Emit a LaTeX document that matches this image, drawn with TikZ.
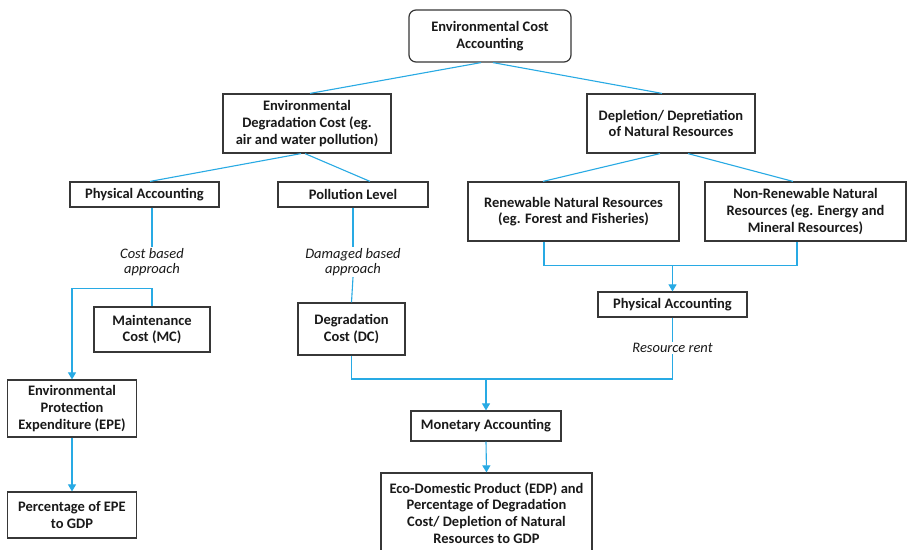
\documentclass[tikz,border=0pt]{standalone}
\usepackage{fontspec}
\setmainfont{Carlito}
\usetikzlibrary{arrows.meta}
\definecolor{conncol}{RGB}{40,170,228}
\definecolor{edgecol}{RGB}{55,55,55}
\definecolor{ink}{RGB}{25,25,25}
\begin{document}
\begin{tikzpicture}[x=1pt,y=-1pt,
  box/.style={draw=edgecol, line width=1.2pt, fill=white, align=center,
    font=\fontsize{14.5}{16.7}\selectfont\bfseries, text=ink, inner sep=0pt},
  lbl/.style={font=\fontsize{14.5}{15.5}\selectfont\itshape, text=ink, align=center, inner sep=1pt},
  conn/.style={draw=conncol, line width=1.1pt},
  arr/.style={conn, -{Triangle[length=7pt,width=8pt]}}]
\clip (0,0) rectangle (907,549);
\fill[white] (0,0) rectangle (907,549);

\node[box, rounded corners=7pt, minimum width=162pt, minimum height=52pt] (top) at (490,36) {Environmental Cost\\Accounting};
\node[box, minimum width=168pt, minimum height=59pt] (ecd) at (307,123.5) {Environmental\\Degradation Cost (eg.\\air and water pollution)};
\node[box, minimum width=168pt, minimum height=59pt] (dep) at (671,123.5) {Depletion/ Depretiation\\of Natural Resources};
\node[box, minimum width=149pt, minimum height=25pt] (pa1) at (144.5,194.5) {Physical Accounting};
\node[box, minimum width=150pt, minimum height=25pt] (pl) at (353,194.5) {Pollution Level};
\node[box, minimum width=211pt, minimum height=59pt] (ren) at (573.5,211.5) {Renewable Natural Resources\\(eg. Forest and Fisheries)};
\node[box, minimum width=201pt, minimum height=59pt] (nonren) at (805.5,211.5) {Non-Renewable Natural\\Resources (eg. Energy and\\Mineral Resources)};
\node[box, minimum width=149pt, minimum height=25pt] (pa2) at (672.5,304.5) {Physical Accounting};
\node[box, minimum width=116pt, minimum height=45pt] (mc) at (152,329.5) {Maintenance\\Cost (MC)};
\node[box, minimum width=107pt, minimum height=52pt] (dc) at (351.5,329) {Degradation\\Cost (DC)};
\node[box, minimum width=129pt, minimum height=57pt] (epe) at (72,408.5) {Environmental\\Protection\\Expenditure (EPE)};
\node[box, minimum width=129pt, minimum height=46pt] (pct) at (72,515) {Percentage of EPE\\to GDP};
\node[box, minimum width=150pt, minimum height=30pt] (mon) at (486,426) {Monetary Accounting};
\node[box, minimum width=211pt, minimum height=80pt] (edp) at (486.5,513) {Eco-Domestic Product (EDP) and\\Percentage of Degradation\\Cost/ Depletion of Natural\\Resources to GDP};

\node[lbl] (cba) at (152,262) {Cost based\\approach};
\node[lbl] (dba) at (353,262) {Damaged based\\approach};
\node[lbl] (rr) at (672.5,348) {Resource rent};

\coordinate (j1) at (672.5,265);
\coordinate (j2) at (486,379);

\draw[conn] ([xshift=-9pt]top.south) -- ([xshift=3pt]ecd.north);
\draw[conn] ([xshift=3pt]top.south) -- ([xshift=-9pt]dep.north);
\draw[conn] ([xshift=-6pt]ecd.south) -- ([xshift=5.5pt]pa1.north);
\draw[conn] ([xshift=-2pt]ecd.south) -- ([xshift=17pt]pl.north);
\draw[conn] ([xshift=-11pt]dep.south) -- ([xshift=-30.5pt]ren.north);
\draw[conn] ([xshift=17pt]dep.south) -- ([xshift=-12.5pt]nonren.north);

\draw[conn] ([xshift=-29.5pt]ren.south) -- ++(0,24) -| ([xshift=-8.5pt]nonren.south);
\draw[arr] (j1) -- (pa2.north);

\draw[conn] (pa1.south -| cba.north) -- (cba.north);
\draw[arr] (mc.north) -- ++(0,-18) -| (epe.north);
\draw[arr] (epe.south) -- (pct.north);

\draw[conn] (pl.south -| dba.north) -- (dba.north);
\draw[conn] (dba.south) -- (dc.north);

\draw[conn] (pa2.south) -- (rr.north);
\draw[conn] (dc.south) |- (j2) -| (rr.south);
\draw[arr] (j2) -- (mon.north);
\draw[arr] (mon.south) -- (edp.north);
\end{tikzpicture}
\end{document}
